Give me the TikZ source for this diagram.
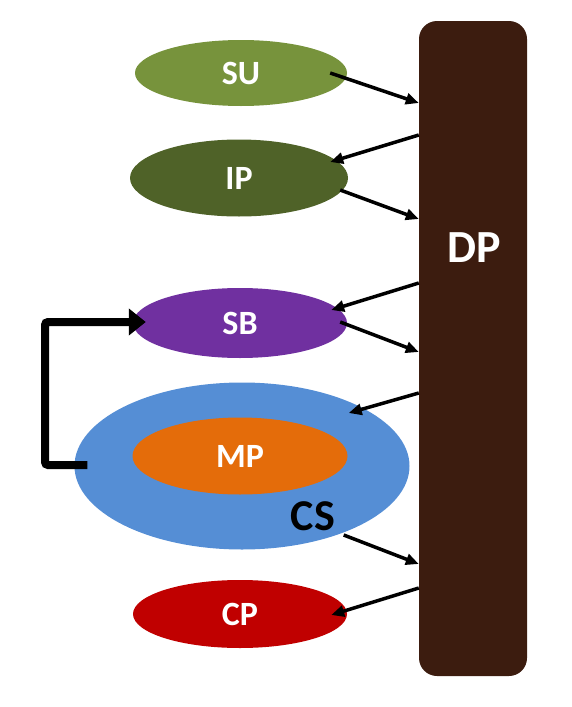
\documentclass[tikz,border=0pt]{standalone}
\usepackage{fontspec}
\setmainfont{Carlito}
\usetikzlibrary{arrows.meta,shapes.geometric}
\definecolor{suGreen}{HTML}{77933C}
\definecolor{ipGreen}{HTML}{4F6228}
\definecolor{sbPurple}{HTML}{7030A0}
\definecolor{csBlue}{HTML}{558ED5}
\definecolor{mpOrange}{HTML}{E46C0A}
\definecolor{cpRed}{HTML}{C00000}
\definecolor{dpBrown}{HTML}{3C1C0F}
\begin{document}
\begin{tikzpicture}[x=1pt, y=-1pt,
    main/.style = {ellipse, inner sep=0pt, text=white, font=\fontsize{34}{40}\selectfont\bfseries},
    link/.style = {-{Triangle[length=13pt,width=11pt]}, line width=3.5pt, black}]
    \useasboundingbox (0,0) rectangle (572,707);
    \node[draw=none, fill=dpBrown, rounded corners=18pt, minimum width=108pt, minimum height=655pt] (DP) at (473,348.5) {};
    \node[text=white, font=\fontsize{46}{52}\selectfont\bfseries] (DPtext) at (474,248) {DP};
    \node[main, fill=suGreen, minimum width=212pt, minimum height=66pt] (SU) at (241,73) {SU};
    \node[main, fill=ipGreen, minimum width=218pt, minimum height=77pt] (IP) at (239,178) {IP};
    \node[main, fill=sbPurple, minimum width=214pt, minimum height=70pt] (SB) at (240,323) {SB};
    \node[main, fill=csBlue, minimum width=335pt, minimum height=167pt] (CS) at (242,466) {};
    \node[main, fill=mpOrange, minimum width=215pt, minimum height=77pt] (MP) at (240,456) {MP};
    \node[font=\fontsize{44}{50}\selectfont\bfseries] (CStext) at (313,516) {CS};
    \node[main, fill=cpRed, minimum width=214pt, minimum height=68pt] (CP) at (240,614) {CP};
    % connectors with DP
    \draw[link] ([xshift=-17pt]SU.east) -- ([yshift=245.5pt]DP.west);
    \draw[link] ([yshift=213.5pt]DP.west) -- ([xshift=-18pt,yshift=16pt]IP.east);
    \draw[link] ([xshift=-8pt,yshift=-12pt]IP.east) -- ([yshift=129.5pt]DP.west);
    \draw[link] ([yshift=65.5pt]DP.west) -- ([xshift=-16pt,yshift=13pt]SB.east);
    \draw[link] ([xshift=-7pt,yshift=1pt]SB.east) -- ([yshift=-3.5pt]DP.west);
    \draw[link] ([yshift=-44.5pt]DP.west) -- ([xshift=-61pt,yshift=53pt]CS.east);
    \draw[link] ([xshift=-66pt,yshift=-69pt]CS.east) -- ([yshift=-215.5pt]DP.west);
    \draw[link] ([yshift=-239.5pt]DP.west) -- ([xshift=-16pt,yshift=-1pt]CP.east);
    % feedback from CS to SB
    \draw[line width=8pt, rounded corners=3pt, -{Triangle[length=17pt,width=26pt]}]
        ([xshift=13pt,yshift=1pt]CS.west) -- (45,465) -- (45,322) -- ([xshift=13pt,yshift=1pt]SB.west);
\end{tikzpicture}
\end{document}
